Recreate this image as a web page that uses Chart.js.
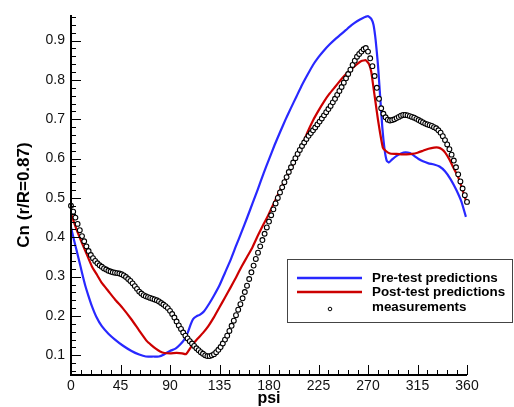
<!DOCTYPE html>
<html>
<head>
<meta charset="utf-8">
<script src="https://cdn.jsdelivr.net/npm/chart.js@4.4.0/dist/chart.umd.min.js"></script>
<style>
  body { margin: 0; background: #fff; }
  #wrap { width: 514px; height: 407px; position: relative; }
</style>
</head>
<body>
<div id="wrap"><canvas id="myChart"></canvas></div>
<script>
// axis ticks
const xTicks = [0, 45, 90, 135, 180, 225, 270, 315, 360];
const yTicks = [0.1, 0.2, 0.3, 0.4, 0.5, 0.6, 0.7, 0.8, 0.9];

// pre-test predictions (psi, Cn)
const prePsi = [0, 3, 7, 10, 13, 16, 19, 23, 28, 34, 40, 47, 55, 62, 68, 75, 80, 85, 90, 95, 99, 103, 106, 109, 111, 114, 117, 121, 126, 130, 135, 140, 145, 150, 155, 160, 165, 170, 175, 180, 185, 190, 195, 200, 205, 210, 215, 220, 225, 230, 235, 240, 245, 250, 255, 260, 265, 270, 273, 275, 277, 279, 281, 283, 285, 287, 289, 292, 296, 300, 304, 308, 312, 316, 320, 325, 330, 335, 340, 345, 350, 355, 359];
const preCn = [0.425, 0.39, 0.345, 0.31, 0.277, 0.25, 0.225, 0.198, 0.174, 0.155, 0.14, 0.125, 0.111, 0.102, 0.097, 0.097, 0.097, 0.103, 0.111, 0.117, 0.127, 0.14, 0.157, 0.18, 0.192, 0.199, 0.203, 0.212, 0.233, 0.252, 0.278, 0.31, 0.342, 0.378, 0.413, 0.449, 0.486, 0.523, 0.562, 0.598, 0.634, 0.667, 0.699, 0.729, 0.758, 0.787, 0.813, 0.838, 0.858, 0.875, 0.89, 0.903, 0.915, 0.927, 0.939, 0.949, 0.957, 0.962, 0.955, 0.94, 0.9, 0.84, 0.76, 0.68, 0.625, 0.595, 0.59, 0.598, 0.607, 0.613, 0.616, 0.614, 0.607, 0.599, 0.593, 0.588, 0.585, 0.58, 0.568, 0.548, 0.522, 0.49, 0.452];

// post-test predictions (psi, Cn)
const postPsi = [0, 5, 10, 15, 19, 24, 28, 34, 40, 47, 55, 62, 69, 73, 77, 81, 85, 90, 96, 101, 104.5, 110, 115, 120, 125, 130, 135, 140, 145, 150, 155, 160, 165, 170, 175, 180, 185, 190, 195, 200, 205, 210, 215, 220, 225, 230, 235, 240, 245, 250, 255, 260, 264, 268, 271, 273, 275, 277, 279, 281, 283.5, 286, 290, 295, 300, 305, 310, 315, 320, 325, 330, 334, 337, 340, 344, 348, 352, 356, 360];
const postCn = [0.46, 0.42, 0.385, 0.352, 0.326, 0.303, 0.284, 0.263, 0.242, 0.22, 0.191, 0.163, 0.136, 0.126, 0.117, 0.11, 0.106, 0.105, 0.106, 0.105, 0.103, 0.125, 0.142, 0.157, 0.175, 0.197, 0.222, 0.247, 0.272, 0.298, 0.325, 0.35, 0.375, 0.405, 0.433, 0.46, 0.49, 0.52, 0.548, 0.575, 0.603, 0.632, 0.667, 0.697, 0.722, 0.745, 0.765, 0.782, 0.799, 0.815, 0.828, 0.84, 0.848, 0.85, 0.84, 0.82, 0.78, 0.74, 0.7, 0.665, 0.628, 0.62, 0.613, 0.612, 0.611, 0.611, 0.612, 0.615, 0.62, 0.625, 0.628, 0.628, 0.624, 0.616, 0.598, 0.575, 0.553, 0.52, 0.485];

// measurements, every 2 deg of psi from 0 to 360
const measStep = 2;
const measCn = [
  0.480, 0.465, 0.450, 0.434, 0.418, 0.403, 0.390, 0.377, 0.365, 0.355,
  0.347, 0.340, 0.334, 0.329, 0.325, 0.321, 0.318, 0.315, 0.313, 0.311,
  0.310, 0.309, 0.308, 0.306, 0.303, 0.299, 0.294, 0.289, 0.283, 0.276,
  0.269, 0.262, 0.257, 0.253, 0.250, 0.248, 0.246, 0.244, 0.242, 0.240,
  0.237, 0.233, 0.229, 0.225, 0.220, 0.213, 0.205, 0.196, 0.186, 0.176,
  0.167, 0.158, 0.150, 0.143, 0.136, 0.130, 0.124, 0.118, 0.113, 0.108,
  0.104, 0.100, 0.098, 0.098, 0.100, 0.103, 0.108, 0.114, 0.121, 0.130,
  0.140, 0.150, 0.162, 0.175, 0.188, 0.202, 0.216, 0.230, 0.245, 0.261,
  0.277, 0.294, 0.311, 0.328, 0.345, 0.361, 0.377, 0.393, 0.409, 0.425,
  0.440, 0.456, 0.471, 0.486, 0.500, 0.514, 0.527, 0.540, 0.553, 0.566,
  0.578, 0.590, 0.601, 0.612, 0.622, 0.632, 0.641, 0.650, 0.658, 0.665,
  0.672, 0.679, 0.687, 0.694, 0.702, 0.710, 0.718, 0.726, 0.734, 0.743,
  0.752, 0.762, 0.772, 0.782, 0.793, 0.804, 0.815, 0.826, 0.838, 0.849,
  0.859, 0.866, 0.872, 0.878, 0.881, 0.872, 0.855, 0.835, 0.810, 0.780,
  0.752, 0.728, 0.714, 0.705, 0.699, 0.697, 0.698, 0.700, 0.703, 0.706,
  0.709, 0.711, 0.711, 0.710, 0.708, 0.706, 0.704, 0.701, 0.698, 0.695,
  0.692, 0.689, 0.687, 0.685, 0.683, 0.680, 0.677, 0.672, 0.666, 0.657,
  0.647, 0.636, 0.624, 0.610, 0.595, 0.578, 0.560, 0.542, 0.524, 0.507,
  0.490
];

const COLORS = {
  pre: 'rgb(40,40,255)',
  post: 'rgb(204,0,0)',
  meas: '#000000',
};

const toPoints = (xs, ys) => xs.map((x, i) => ({ x: x, y: ys[i] }));

// inward ticks, axis lines and boxed legend, Tecplot style
const frameAndLegend = {
  id: 'frameAndLegend',
  afterDraw(chart) {
    const ctx = chart.ctx;
    const xs = chart.scales.x, ys = chart.scales.y;
    const a = chart.chartArea;
    ctx.save();
    ctx.strokeStyle = '#000';
    ctx.lineWidth = 1;
    for (let v = 0; v <= 360; v += 9) {
      const px = Math.round(xs.getPixelForValue(v)) + 0.5;
      const len = v % 45 == 0 ? 10 : 5;
      ctx.beginPath(); ctx.moveTo(px, a.bottom); ctx.lineTo(px, a.bottom - len); ctx.stroke();
    }
    for (let k = 3; k <= 48; k++) {
      const v = k * 0.02;
      const py = Math.round(ys.getPixelForValue(v)) + 0.5;
      const len = k % 5 == 0 ? 10 : 5;
      ctx.beginPath(); ctx.moveTo(a.left, py); ctx.lineTo(a.left + len, py); ctx.stroke();
    }
    ctx.lineWidth = 2;
    ctx.beginPath();
    ctx.moveTo(a.left, a.top);
    ctx.lineTo(a.left, a.bottom);
    ctx.lineTo(a.right, a.bottom);
    ctx.stroke();

    // legend box
    const lx = 287, ly = 259, lw = 225, lh = 63;
    ctx.fillStyle = '#fff';
    ctx.fillRect(lx, ly, lw, lh);
    ctx.strokeStyle = '#444';
    ctx.lineWidth = 1;
    ctx.strokeRect(lx + 0.5, ly + 0.5, lw, lh);
    const rows = [
      { text: 'Pre-test predictions', color: COLORS.pre, y: 278 },
      { text: 'Post-test predictions', color: COLORS.post, y: 292 },
      { text: 'measurements', color: null, y: 307 },
    ];
    ctx.font = 'bold 13.4px "Liberation Sans", Arial, sans-serif';
    ctx.textBaseline = 'middle';
    ctx.textAlign = 'left';
    for (let r of rows) {
      if (r.color) {
        ctx.strokeStyle = r.color;
        ctx.lineWidth = 2.5;
        ctx.beginPath(); ctx.moveTo(297, r.y); ctx.lineTo(362, r.y); ctx.stroke();
      } else {
        ctx.strokeStyle = '#000';
        ctx.fillStyle = '#fff';
        ctx.lineWidth = 1;
        ctx.beginPath(); ctx.arc(330, r.y + 2, 1.8, 0, Math.PI * 2); ctx.fill(); ctx.stroke();
      }
      ctx.fillStyle = '#000';
      ctx.fillText(r.text, 372, r.y);
    }
    ctx.restore();
  }
};

const tickFont = { family: '"Liberation Sans", Arial, sans-serif', size: 14 };

const config = {
  type: 'scatter',
  data: {
    datasets: [
      {
        label: 'measurements',
        data: toPoints(measCn.map((v, i) => i * measStep), measCn),
        showLine: false,
        pointRadius: 2.4,
        pointBorderWidth: 1.1,
        pointBorderColor: COLORS.meas,
        pointBackgroundColor: '#fff',
        clip: false,
      },
      {
        label: 'Post-test predictions',
        data: toPoints(postPsi, postCn),
        showLine: true,
        borderColor: COLORS.post,
        borderWidth: 2.2,
        pointRadius: 0,
        tension: 0.15,
      },
      {
        label: 'Pre-test predictions',
        data: toPoints(prePsi, preCn),
        showLine: true,
        borderColor: COLORS.pre,
        borderWidth: 2.2,
        pointRadius: 0,
        tension: 0.15,
      },
    ]
  },
  options: {
    responsive: true,
    maintainAspectRatio: false,
    animation: false,
    layout: { padding: { left: 0, top: 15, right: 47, bottom: 0 } },
    plugins: {
      legend: { display: false },
      tooltip: { enabled: false },
    },
    scales: {
      x: {
        type: 'linear',
        min: 0,
        max: 360,
        afterBuildTicks: (s) => { s.ticks = xTicks.map(v => ({ value: v })); },
        afterFit: (s) => { s.height = 32; },
        grid: { display: false, drawTicks: false },
        border: { display: false },
        ticks: { color: '#111', font: tickFont, padding: 3, maxRotation: 0 },
        title: {
          display: true,
          text: 'psi',
          color: '#000',
          font: { family: '"Liberation Sans", Arial, sans-serif', size: 16, weight: 'bold', lineHeight: 1.0 },
          padding: 0,
        },
      },
      y: {
        type: 'linear',
        min: 0.05,
        max: 0.965,
        afterBuildTicks: (s) => { s.ticks = yTicks.map(v => ({ value: v })); },
        afterFit: (s) => { s.width = 71; },
        grid: { display: false, drawTicks: false },
        border: { display: false },
        ticks: { color: '#111', font: tickFont, padding: 6, callback: (v) => v.toFixed(1) },
        title: {
          display: true,
          text: 'Cn (r/R=0.87)',
          color: '#000',
          font: { family: '"Liberation Sans", Arial, sans-serif', size: 17, weight: 'bold' },
          padding: { top: 14, bottom: 0 },
        },
      },
    },
  },
  plugins: [frameAndLegend],
};

const ctx = document.getElementById('myChart').getContext('2d');
const myChart = new Chart(ctx, config);
</script>
</body>
</html>
